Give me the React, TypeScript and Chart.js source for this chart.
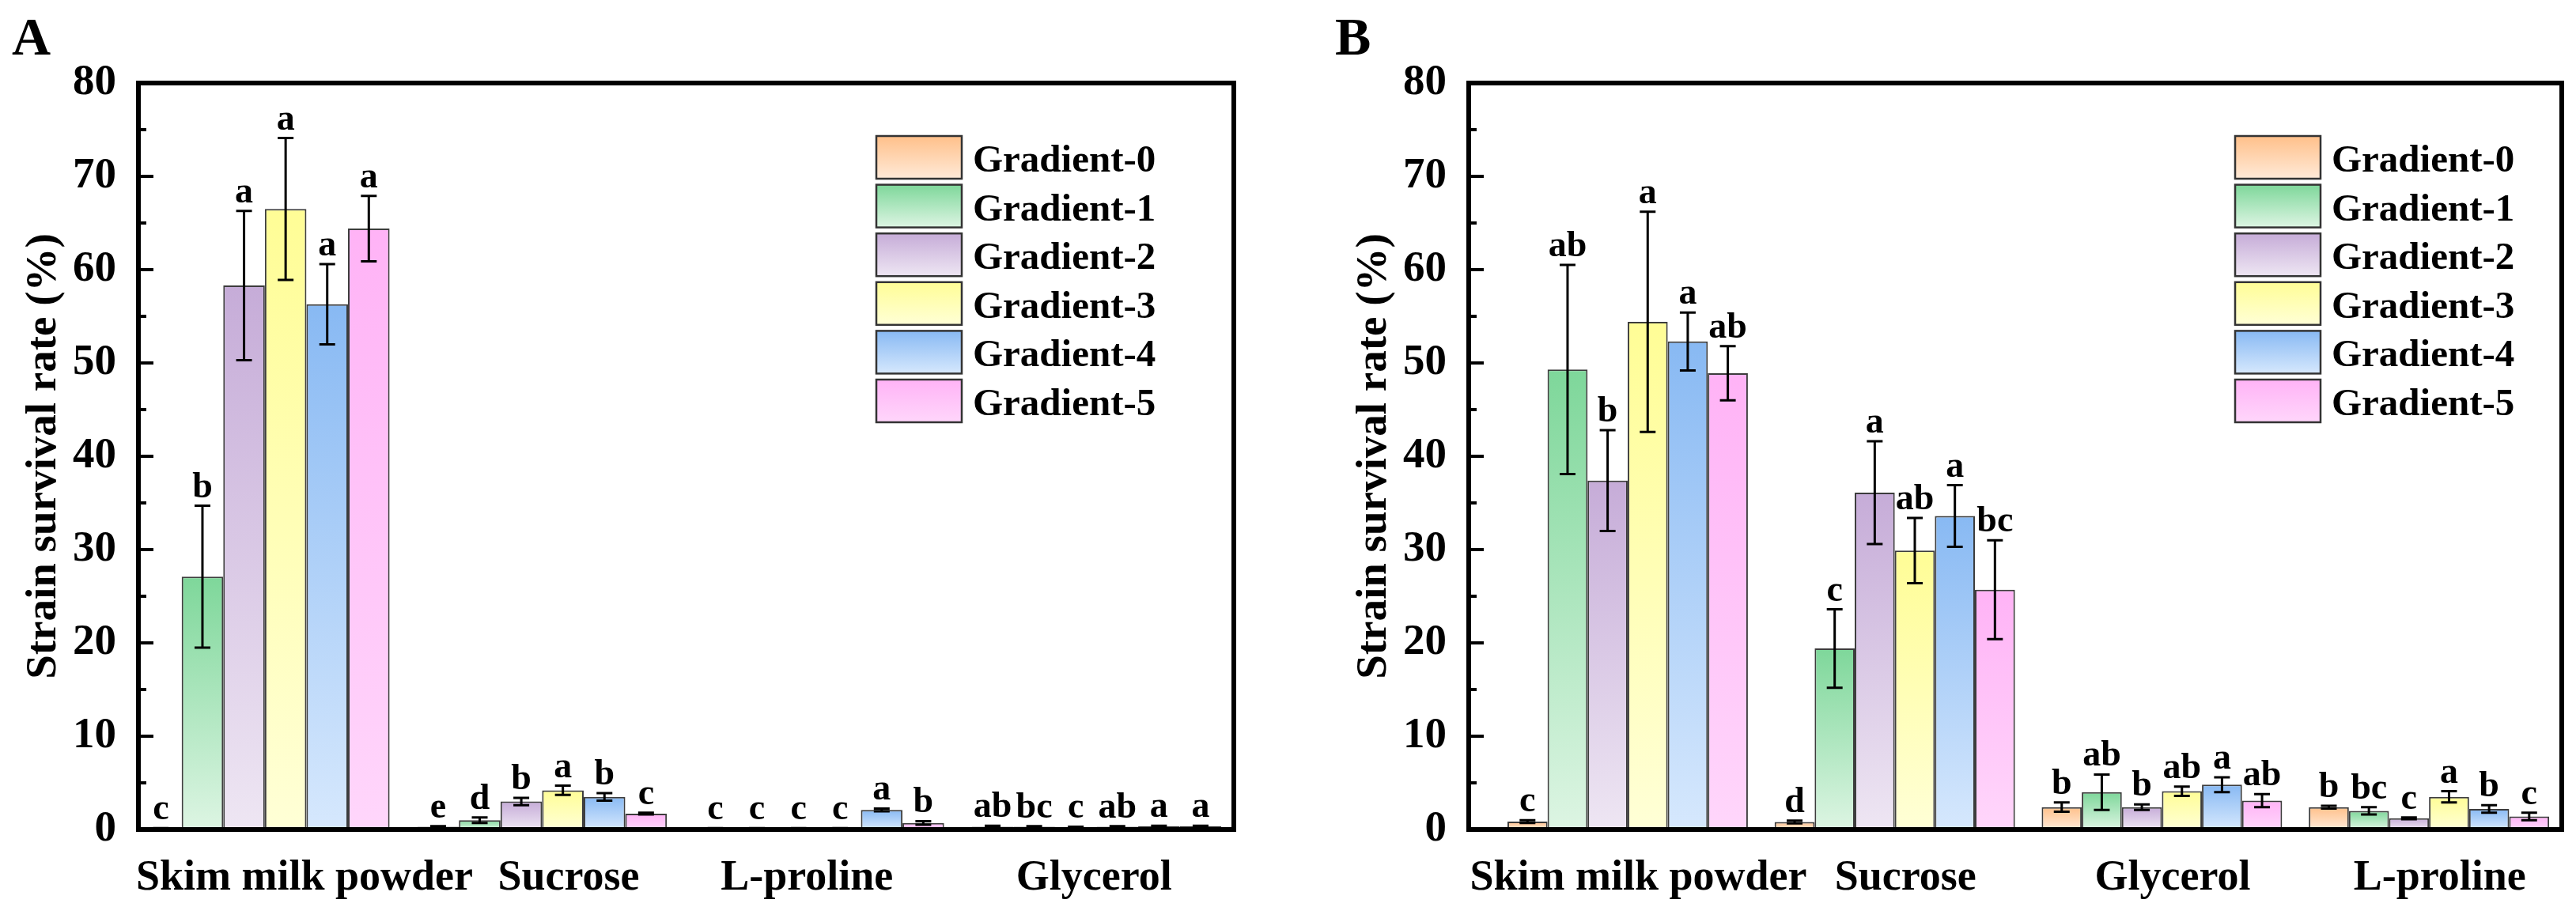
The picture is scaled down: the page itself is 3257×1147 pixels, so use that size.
import React, { useEffect, useRef } from "react";
import { Chart, registerables } from "chart.js";

Chart.register(...registerables);

const FONT = "'Liberation Serif', 'Times New Roman', serif";

const gradientNames = [
  "Gradient-0",
  "Gradient-1",
  "Gradient-2",
  "Gradient-3",
  "Gradient-4",
  "Gradient-5",
];
const topColors = ["#FFC08A", "#7ED79A", "#C6ACD8", "#FFFD96", "#88B9F3", "#FFB3F6"];
const bottomColors = ["#FFEAD8", "#DDF5E3", "#EEE6F3", "#FFFFD6", "#D6E8FD", "#FFD6FB"];

// group positions on the x axis (1..4)
const groupPos = [1, 2, 3, 4];
const yTicks = { min: 0, max: 80, step: 10 };

// ---- panel A ----
const categoriesA = ["Skim milk powder", "Sucrose", "L-proline", "Glycerol"];
const meansA = [
  [0.1, 0.3, 0.1, 0.3],
  [27.1, 1.0, 0.1, 0.3],
  [58.3, 3.0, 0.1, 0.25],
  [66.5, 4.2, 0.1, 0.3],
  [56.3, 3.5, 2.1, 0.35],
  [64.4, 1.7, 0.7, 0.35],
];
const sdA = [
  [0.05, 0.05, 0.05, 0.1],
  [7.6, 0.3, 0.05, 0.05],
  [8.0, 0.4, 0.05, 0.05],
  [7.6, 0.5, 0.05, 0.05],
  [4.3, 0.4, 0.15, 0.05],
  [3.5, 0.1, 0.2, 0.05],
];
const lettersA = [
  ["c", "e", "c", "ab"],
  ["b", "d", "c", "bc"],
  ["a", "b", "c", "c"],
  ["a", "a", "c", "ab"],
  ["a", "b", "a", "a"],
  ["a", "c", "b", "a"],
];

// ---- panel B ----
const categoriesB = ["Skim milk powder", "Sucrose", "Glycerol", "L-proline"];
const meansB = [
  [0.85, 0.8, 2.4, 2.4],
  [49.3, 19.4, 4.0, 2.0],
  [37.4, 36.1, 2.4, 1.2],
  [54.4, 29.9, 4.1, 3.5],
  [52.3, 33.6, 4.8, 2.2],
  [48.9, 25.7, 3.1, 1.4],
];
const sdB = [
  [0.15, 0.15, 0.5, 0.15],
  [11.2, 4.2, 1.9, 0.4],
  [5.4, 5.5, 0.3, 0.1],
  [11.8, 3.5, 0.5, 0.6],
  [3.1, 3.3, 0.8, 0.4],
  [2.9, 5.3, 0.7, 0.4],
];
const lettersB = [
  ["c", "d", "b", "b"],
  ["ab", "c", "ab", "bc"],
  ["b", "a", "b", "c"],
  ["a", "ab", "ab", "a"],
  ["a", "a", "a", "b"],
  ["ab", "bc", "ab", "c"],
];

type PanelCfg = {
  categories: string[];
  means: number[][];
  sds: number[][];
  letters: string[][];
  xMin: number;
  xMax: number;
  labelAt: number[];
  width: number;
  padLeft: number;
  padRight: number;
  legendLeft: number;
  letter: string;
  letterX: number;
};

const panels: PanelCfg[] = [
  {
    categories: categoriesA,
    means: meansA,
    sds: sdA,
    letters: lettersA,
    xMin: 0.544,
    xMax: 4.495,
    labelAt: [1.143, 2.096, 2.955, 3.991],
    width: 1640,
    padLeft: 0,
    padRight: 80,
    legendLeft: 452,
    letter: "A",
    letterX: 15,
  },
  {
    categories: categoriesB,
    means: meansB,
    sds: sdB,
    letters: lettersB,
    xMin: 0.405,
    xMax: 4.497,
    labelAt: [1.04, 2.04, 3.04, 4.04],
    width: 1617,
    padLeft: 42,
    padRight: 18,
    legendLeft: 413,
    letter: "B",
    letterX: 48,
  },
];

const barFill = (i: number) => (c: any) => {
  const chart = c.chart;
  if (!chart.chartArea || c.type !== "data" || !c.raw) return topColors[i];
  const ys = chart.scales.y;
  const top = ys.getPixelForValue(c.raw.y);
  const base = ys.getPixelForValue(0);
  if (!isFinite(top) || base - top < 1) return topColors[i];
  const g = chart.ctx.createLinearGradient(0, top, 0, base);
  g.addColorStop(0, topColors[i]);
  g.addColorStop(1, bottomColors[i]);
  return g;
};

// error bars, significance letters, frame, inward ticks, legend, panel letter
const decorPlugin = {
  id: "decor",
  afterDatasetsDraw(chart: any, _args: any, opts: any) {
    const { ctx, chartArea: area } = chart;
    const y = chart.scales.y;
    ctx.save();

    chart.data.datasets.forEach((ds: any, di: number) => {
      const meta = chart.getDatasetMeta(di);
      meta.data.forEach((bar: any, i: number) => {
        const v = ds.data[i].y;
        const sd = ds.sd[i];
        const yt = y.getPixelForValue(v + sd);
        const yb = y.getPixelForValue(Math.max(v - sd, 0));
        ctx.strokeStyle = "#000";
        ctx.lineWidth = 3;
        ctx.beginPath();
        ctx.moveTo(bar.x, yt);
        ctx.lineTo(bar.x, yb);
        ctx.moveTo(bar.x - 10, yt);
        ctx.lineTo(bar.x + 10, yt);
        ctx.moveTo(bar.x - 10, yb);
        ctx.lineTo(bar.x + 10, yb);
        ctx.stroke();

        ctx.fillStyle = "#000";
        ctx.font = `bold 46px ${FONT}`;
        ctx.textAlign = "center";
        ctx.textBaseline = "alphabetic";
        ctx.fillText(ds.letters[i], bar.x, yt - 11);
      });
    });

    // frame
    ctx.strokeStyle = "#000";
    ctx.lineWidth = 6;
    ctx.strokeRect(area.left, area.top, area.right - area.left, area.bottom - area.top);

    // inward major / minor ticks on the y axis
    ctx.lineWidth = 4;
    ctx.beginPath();
    for (let v = yTicks.min; v <= yTicks.max; v += yTicks.step / 2) {
      const py = y.getPixelForValue(v);
      const len = v % yTicks.step === 0 ? 19 : 10;
      ctx.moveTo(area.left, py);
      ctx.lineTo(area.left + len, py);
    }
    ctx.stroke();

    // legend
    const x0 = area.right - opts.legendLeft;
    chart.data.datasets.forEach((ds: any, i: number) => {
      const top = area.top + 67 + i * 61.6;
      const g = ctx.createLinearGradient(0, top, 0, top + 54);
      g.addColorStop(0, topColors[i]);
      g.addColorStop(1, bottomColors[i]);
      ctx.fillStyle = g;
      ctx.fillRect(x0, top, 108, 54);
      ctx.lineWidth = 2.5;
      ctx.strokeStyle = "#333";
      ctx.strokeRect(x0, top, 108, 54);
      ctx.fillStyle = "#000";
      ctx.font = `bold 49px ${FONT}`;
      ctx.textAlign = "left";
      ctx.textBaseline = "alphabetic";
      ctx.fillText(ds.label, x0 + 122, top + 45);
    });

    // panel letter
    ctx.font = `bold 68px ${FONT}`;
    ctx.textAlign = "left";
    ctx.textBaseline = "alphabetic";
    ctx.fillStyle = "#000";
    ctx.fillText(opts.letter, opts.letterX, 69);

    ctx.restore();
  },
};

const Panel = ({ cfg }: { cfg: PanelCfg }) => {
  const chartRef = useRef<HTMLCanvasElement>(null);

  useEffect(() => {
    if (!chartRef.current) return;

    const datasets = gradientNames.map((name, gi) => ({
      label: name,
      data: groupPos.map((x, ci) => ({ x, y: cfg.means[gi][ci] })),
      sd: cfg.sds[gi],
      letters: cfg.letters[gi],
      backgroundColor: barFill(gi),
      borderColor: "#3c3c3c",
      borderWidth: 2,
      categoryPercentage: 0.9,
      barPercentage: 1,
    }));

    const tickFont = { family: FONT, size: 55, weight: "bold" as const };

    const chart = new Chart(chartRef.current, {
      type: "bar",
      data: { datasets },
      plugins: [decorPlugin],
      options: {
        animation: false,
        responsive: true,
        maintainAspectRatio: false,
        layout: {
          padding: { top: 105, bottom: 0, left: cfg.padLeft, right: cfg.padRight },
        },
        plugins: {
          legend: { display: false },
          tooltip: { enabled: false },
          decor: { legendLeft: cfg.legendLeft, letter: cfg.letter, letterX: cfg.letterX },
        } as any,
        scales: {
          x: {
            type: "linear",
            min: cfg.xMin,
            max: cfg.xMax,
            offset: false,
            grid: { display: false },
            border: { display: false },
            ticks: { display: false },
            afterBuildTicks: (s: any) => {
              s.ticks = groupPos.map((v) => ({ value: v }));
            },
            afterFit: (s: any) => {
              s.height = 0;
            },
          },
          xLab: {
            type: "linear",
            axis: "x",
            position: "bottom",
            min: cfg.xMin,
            max: cfg.xMax,
            offset: false,
            grid: { display: false },
            border: { display: false },
            afterBuildTicks: (s: any) => {
              s.ticks = cfg.labelAt.map((v) => ({ value: v }));
            },
            afterFit: (s: any) => {
              s.height = 98;
            },
            ticks: {
              autoSkip: false,
              maxRotation: 0,
              minRotation: 0,
              padding: 22,
              color: "#000",
              font: { family: FONT, size: 54, weight: "bold" },
              callback: (_v: any, i: number) => cfg.categories[i],
            },
          },
          y: {
            min: yTicks.min,
            max: yTicks.max,
            grid: { display: false },
            border: { display: false },
            afterFit: (s: any) => {
              s.width = 175;
            },
            ticks: {
              stepSize: yTicks.step,
              padding: 20,
              color: "#000",
              font: tickFont,
            },
            title: {
              display: true,
              text: "Strain survival rate (%)",
              color: "#000",
              font: tickFont,
              padding: { top: 23, bottom: 0 },
            },
          },
        } as any,
      },
    });

    return () => {
      chart.destroy();
    };
  }, [cfg]);

  return (
    <div style={{ position: "relative", width: cfg.width, height: 1147 }}>
      <canvas ref={chartRef}></canvas>
    </div>
  );
};

const App = () => {
  useEffect(() => {
    document.body.style.margin = "0";
  }, []);

  return (
    <div style={{ display: "flex", width: 3257, height: 1147, background: "#fff" }}>
      {panels.map((p) => (
        <Panel key={p.letter} cfg={p} />
      ))}
    </div>
  );
};

export default App;
